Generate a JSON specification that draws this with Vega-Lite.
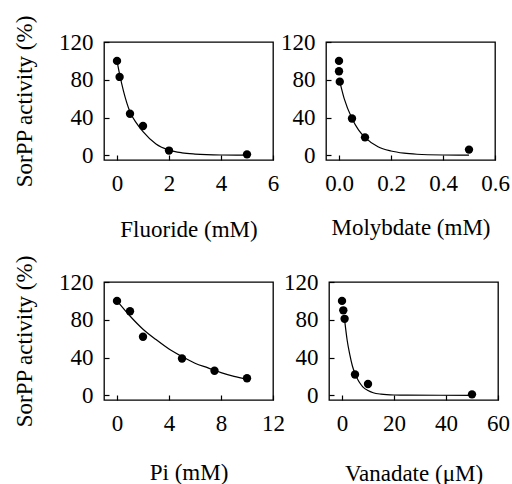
{
  "$schema": "https://vega.github.io/schema/vega-lite/v6.json",
  "background": "white",
  "padding": {"left": 12, "top": 14, "right": 2, "bottom": 2},
  "spacing": 12,
  "config": {
    "font": "Liberation Serif",
    "view": {"stroke": "black", "strokeWidth": 1.3},
    "axis": {
      "grid": false,
      "domain": false,
      "offset": -5,
      "tickColor": "black",
      "tickSize": 5,
      "tickWidth": 1.2,
      "labelFont": "Liberation Serif",
      "labelFontSize": 23,
      "labelColor": "black",
      "titleFont": "Liberation Serif",
      "titleFontSize": 23,
      "titleFontWeight": "normal",
      "titleColor": "black"
    },
    "axisX": {"labelPadding": 12, "titlePadding": 23, "labelFlush": false},
    "axisY": {"labelPadding": 11, "titlePadding": 22, "labelFlush": false}
  },
  "datasets": {
    "fl_pts": [
      {"x": 0, "y": 100}, {"x": 0.1, "y": 83}, {"x": 0.5, "y": 44},
      {"x": 1, "y": 31}, {"x": 2, "y": 5}, {"x": 5, "y": 1}
    ],
    "fl_fit": [
      {"x": 0, "y": 100}, {"x": 0.1, "y": 86}, {"x": 0.25, "y": 68}, {"x": 0.5, "y": 46},
      {"x": 0.75, "y": 34}, {"x": 1, "y": 25}, {"x": 1.5, "y": 12}, {"x": 2, "y": 5.5},
      {"x": 2.5, "y": 2.6}, {"x": 3, "y": 1.3}, {"x": 4, "y": 0.3}, {"x": 5, "y": 0.1}
    ],
    "mo_pts": [
      {"x": 0, "y": 100}, {"x": 0, "y": 89}, {"x": 0.003, "y": 78},
      {"x": 0.05, "y": 39}, {"x": 0.1, "y": 19}, {"x": 0.5, "y": 6}
    ],
    "mo_fit": [
      {"x": 0.003, "y": 78}, {"x": 0.02, "y": 60}, {"x": 0.05, "y": 39}, {"x": 0.075, "y": 27},
      {"x": 0.1, "y": 19}, {"x": 0.15, "y": 9}, {"x": 0.2, "y": 4.5}, {"x": 0.25, "y": 2.2},
      {"x": 0.3, "y": 1.1}, {"x": 0.4, "y": 0.3}, {"x": 0.5, "y": 0.1}
    ],
    "pi_pts": [
      {"x": 0, "y": 100}, {"x": 1, "y": 89}, {"x": 2, "y": 62},
      {"x": 5, "y": 39}, {"x": 7.5, "y": 26}, {"x": 10, "y": 18}
    ],
    "pi_fit": [
      {"x": 0, "y": 100}, {"x": 1, "y": 84}, {"x": 2, "y": 70}, {"x": 3, "y": 59},
      {"x": 4, "y": 49}, {"x": 5, "y": 41}, {"x": 6, "y": 34}, {"x": 7, "y": 29},
      {"x": 8, "y": 24}, {"x": 9, "y": 20}, {"x": 10, "y": 17}
    ],
    "va_pts": [
      {"x": 0, "y": 100}, {"x": 0.5, "y": 90}, {"x": 1, "y": 81},
      {"x": 5, "y": 22}, {"x": 10, "y": 12}, {"x": 50, "y": 1}
    ],
    "va_fit": [
      {"x": 1, "y": 80}, {"x": 2, "y": 58}, {"x": 3, "y": 43}, {"x": 4, "y": 31},
      {"x": 5, "y": 23}, {"x": 6, "y": 17}, {"x": 7, "y": 12.5}, {"x": 8, "y": 9},
      {"x": 10, "y": 5}, {"x": 12, "y": 2.7}, {"x": 15, "y": 1.2}, {"x": 20, "y": 0.3},
      {"x": 25, "y": 0.1}, {"x": 50, "y": 0}
    ]
  },
  "vconcat": [
    {
      "spacing": 53,
      "bounds": "flush",
      "hconcat": [
        {
          "width": 169, "height": 118,
          "encoding": {
            "x": {"field": "x", "type": "quantitative", "title": "Fluoride (mM)",
                  "scale": {"domain": [-0.5, 6], "nice": false, "zero": false},
                  "axis": {"values": [0, 2, 4, 6], "format": "d"}},
            "y": {"field": "y", "type": "quantitative", "title": "SorPP activity (%)",
                  "scale": {"domain": [-5, 120], "nice": false, "zero": false},
                  "axis": {"values": [0, 40, 80, 120]}}
          },
          "layer": [
            {"data": {"name": "fl_fit"}, "mark": {"type": "line", "color": "black", "strokeWidth": 1.2, "interpolate": "monotone"}},
            {"data": {"name": "fl_pts"}, "mark": {"type": "circle", "color": "black", "opacity": 1, "size": 70}}
          ]
        },
        {
          "width": 169, "height": 118,
          "encoding": {
            "x": {"field": "x", "type": "quantitative", "title": "Molybdate (mM)",
                  "scale": {"domain": [-0.05, 0.6], "nice": false, "zero": false},
                  "axis": {"values": [0, 0.2, 0.4, 0.6], "format": ".1f", "titlePadding": 21}},
            "y": {"field": "y", "type": "quantitative", "title": null,
                  "scale": {"domain": [-5, 120], "nice": false, "zero": false},
                  "axis": {"values": [0, 40, 80, 120]}}
          },
          "layer": [
            {"data": {"name": "mo_fit"}, "mark": {"type": "line", "color": "black", "strokeWidth": 1.2, "interpolate": "monotone"}},
            {"data": {"name": "mo_pts"}, "mark": {"type": "circle", "color": "black", "opacity": 1, "size": 70}}
          ]
        }
      ]
    },
    {
      "spacing": 56,
      "bounds": "flush",
      "hconcat": [
        {
          "width": 169, "height": 118,
          "encoding": {
            "x": {"field": "x", "type": "quantitative", "title": "Pi (mM)",
                  "scale": {"domain": [-1, 12], "nice": false, "zero": false},
                  "axis": {"values": [0, 4, 8, 12], "format": "d", "titlePadding": 26}},
            "y": {"field": "y", "type": "quantitative", "title": "SorPP activity (%)",
                  "scale": {"domain": [-5, 120], "nice": false, "zero": false},
                  "axis": {"values": [0, 40, 80, 120]}}
          },
          "layer": [
            {"data": {"name": "pi_fit"}, "mark": {"type": "line", "color": "black", "strokeWidth": 1.2, "interpolate": "monotone"}},
            {"data": {"name": "pi_pts"}, "mark": {"type": "circle", "color": "black", "opacity": 1, "size": 70}}
          ]
        },
        {
          "width": 169, "height": 118,
          "encoding": {
            "x": {"field": "x", "type": "quantitative", "title": "Vanadate (μM)",
                  "scale": {"domain": [-5, 60], "nice": false, "zero": false},
                  "axis": {"values": [0, 20, 40, 60], "format": "d", "titlePadding": 27}},
            "y": {"field": "y", "type": "quantitative", "title": null,
                  "scale": {"domain": [-5, 120], "nice": false, "zero": false},
                  "axis": {"values": [0, 40, 80, 120]}}
          },
          "layer": [
            {"data": {"name": "va_fit"}, "mark": {"type": "line", "color": "black", "strokeWidth": 1.2, "interpolate": "monotone"}},
            {"data": {"name": "va_pts"}, "mark": {"type": "circle", "color": "black", "opacity": 1, "size": 70}}
          ]
        }
      ]
    }
  ]
}
